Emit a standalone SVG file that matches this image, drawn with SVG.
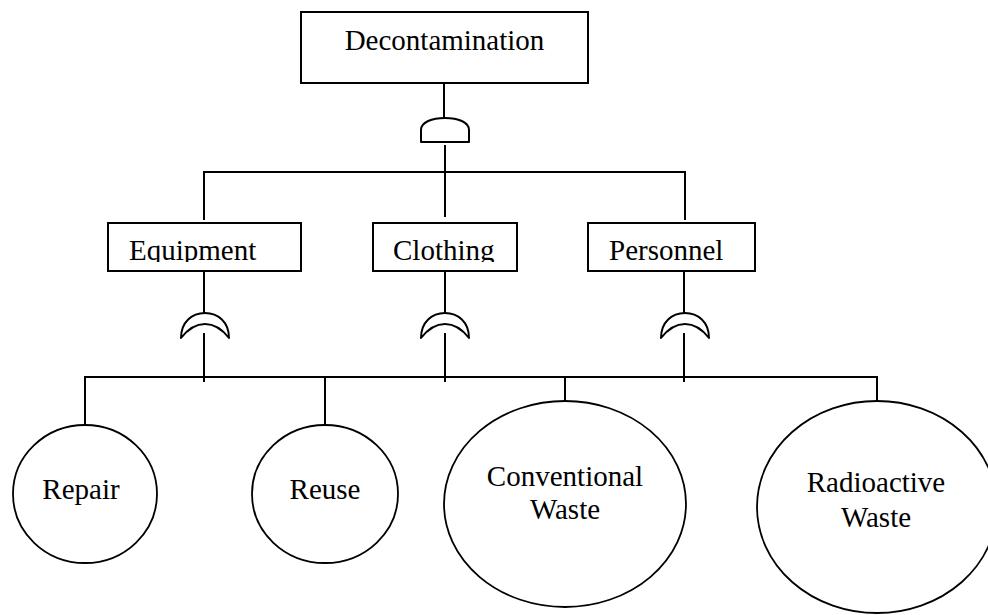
<svg xmlns="http://www.w3.org/2000/svg" width="988" height="615" viewBox="0 0 988 615">
<style>
.box{fill:#fff;stroke:#000;stroke-width:2}
.ell{fill:#fff;stroke:#000;stroke-width:1.8}
.ln{fill:none;stroke:#000;stroke-width:2}
.gate{fill:#fff;stroke:#000;stroke-width:2;stroke-linejoin:round}
.t{font-family:"Liberation Serif","Times New Roman",serif;font-size:29px;fill:#000}
</style>
<defs>
<clipPath id="c1"><rect x="100" y="223" width="660" height="39"/></clipPath>
</defs>
<g id="connectors">
<line class="ln" x1="444" y1="83" x2="444" y2="118"/>
<line class="ln" x1="445" y1="145" x2="445" y2="217"/>
<polyline class="ln" points="204,220 204,172 685,172 685,220"/>
<line class="ln" x1="204" y1="271" x2="204" y2="313"/>
<line class="ln" x1="445" y1="271" x2="445" y2="313"/>
<line class="ln" x1="684" y1="271" x2="684" y2="313"/>
<line class="ln" x1="204" y1="333" x2="204" y2="382"/>
<line class="ln" x1="445" y1="333" x2="445" y2="382"/>
<line class="ln" x1="684" y1="333" x2="684" y2="382"/>
<polyline class="ln" points="85,425 85,377 877,377 877,401"/>
<line class="ln" x1="325" y1="377" x2="325" y2="425"/>
<line class="ln" x1="565" y1="377" x2="565" y2="401"/>
</g>
<g id="gate-and">
<path class="gate" d="M421,142 V130 C421,122 432,118 445,118 C458,118 469,122 469,130 V142 Z"/>
</g>
<g id="gate-or-1">
<path class="gate" d="M181,338 C181,322 192,313 205,313 C218,313 229,322 229,338 C222,329 214,324 205,324 C196,324 188,329 181,338 Z"/>
</g>
<g id="gate-or-2">
<path class="gate" d="M421,338 C421,322 432,313 445,313 C458,313 469,322 469,338 C462,329 454,324 445,324 C436,324 428,329 421,338 Z"/>
</g>
<g id="gate-or-3">
<path class="gate" d="M661,338 C661,322 672,313 685,313 C698,313 709,322 709,338 C702,329 694,324 685,324 C676,324 668,329 661,338 Z"/>
</g>
<g id="decontamination">
<rect class="box" x="301" y="12" width="287" height="71"/>
<text class="t" x="444.5" y="50" text-anchor="middle">Decontamination</text>
</g>
<g id="equipment">
<rect class="box" x="108" y="223" width="193" height="48"/>
<text class="t" x="129" y="260" clip-path="url(#c1)">Equipment</text>
</g>
<g id="clothing">
<rect class="box" x="373" y="223" width="144" height="48"/>
<text class="t" x="393" y="260" clip-path="url(#c1)">Clothing</text>
</g>
<g id="personnel">
<rect class="box" x="588" y="223" width="167" height="48"/>
<text class="t" x="609" y="260" clip-path="url(#c1)">Personnel</text>
</g>
<g id="repair">
<ellipse class="ell" cx="85" cy="494" rx="72" ry="69"/>
<text class="t" x="81" y="499" text-anchor="middle">Repair</text>
</g>
<g id="reuse">
<ellipse class="ell" cx="325" cy="494" rx="73" ry="69"/>
<text class="t" x="325" y="499" text-anchor="middle">Reuse</text>
</g>
<g id="conventional">
<ellipse class="ell" cx="565" cy="504" rx="121" ry="103"/>
<text class="t" x="565" y="486" text-anchor="middle">Conventional</text>
<text class="t" x="565" y="519" text-anchor="middle">Waste</text>
</g>
<g id="radioactive">
<ellipse class="ell" cx="877" cy="507" rx="120" ry="106"/>
<text class="t" x="876" y="492" text-anchor="middle">Radioactive</text>
<text class="t" x="876" y="527" text-anchor="middle">Waste</text>
</g>
</svg>
